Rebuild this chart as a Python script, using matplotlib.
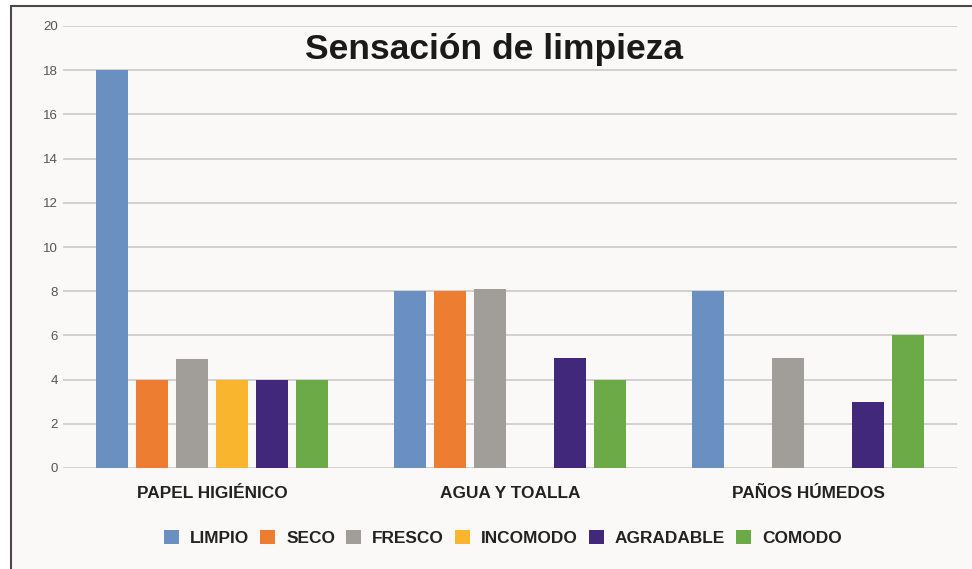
import matplotlib
matplotlib.use("Agg")
import matplotlib.pyplot as plt
import numpy as np
from matplotlib.patches import Rectangle

plt.rcParams['font.family'] = ['Liberation Sans', 'DejaVu Sans']

# ---- data ----
categories = ["PAPEL HIGIÉNICO", "AGUA Y TOALLA", "PAÑOS HÚMEDOS"]
series_names = ["LIMPIO", "SECO", "FRESCO", "INCOMODO", "AGRADABLE", "COMODO"]
limpio = [18, 8, 8]
seco = [4, 8, 0]
fresco = [4.95, 8.1, 5]
incomodo = [4, 0, 0]
agradable = [4, 5, 3]
comodo = [4, 4, 6]
yticks = [0, 2, 4, 6, 8, 10, 12, 14, 16, 18, 20]
title = "Sensación de limpieza"

series = [limpio, seco, fresco, incomodo, agradable, comodo]
colors = ["#6a8fc1", "#ed7d31", "#a19d99", "#f9b52e", "#41287a", "#6baa47"]

W, H = 972, 569
fig = plt.figure(figsize=(W / 100, H / 100), dpi=100, facecolor="white")

# framed background
bg = Rectangle((10.5 / W, -0.1), 1.2, 1 - 6 / H + 0.1, transform=fig.transFigure,
               facecolor="#faf9f8", edgecolor="#4a4a4a", linewidth=1.5, zorder=-10)
fig.patches.append(bg)

ax = fig.add_axes([63 / W, 1 - 468 / H, 894 / W, 442 / H])
ax.set_facecolor("none")
ax.set_zorder(1)

x = np.arange(len(categories))
step = 40 / 298
width = 32.5 / 298
for i, (name, vals, c) in enumerate(zip(series_names, series, colors)):
    ax.bar(x + (i - 2.5) * step, vals, width=width, color=c, label=name,
           linewidth=0, zorder=3)

ax.set_xlim(-0.5, 2.5)
ax.set_ylim(0, 20)
ax.set_yticks(yticks)
ax.set_yticklabels([str(v) for v in yticks])
ax.set_xticks(x)
ax.set_xticklabels(categories, fontsize=12.4, fontweight="bold", color="#222222")
ax.tick_params(axis="x", length=0, pad=13)
ax.tick_params(axis="y", length=0, pad=3.6, labelsize=9.5, labelcolor="#555555")
ax.grid(axis="y", color="#cdcdcd", linewidth=1.3, zorder=0)
ax.set_axisbelow(True)
for s in ax.spines.values():
    s.set_visible(False)

fig.text(494 / W, 1 - 59 / H, title, ha="center", va="baseline",
         fontsize=25.5, fontweight="bold", color="#1a1a1a", zorder=5)

handles, labels = ax.get_legend_handles_labels()
fig.legend(handles, labels, loc="center", bbox_to_anchor=(503 / W, 1 - 538 / H),
           ncol=6, frameon=False,
           prop={"weight": "bold", "size": 12.4},
           handlelength=0.87, handleheight=0.87, handletextpad=0.64,
           columnspacing=0.64, labelcolor="#222222")

fig.savefig("out.png", dpi=100, facecolor="white")
